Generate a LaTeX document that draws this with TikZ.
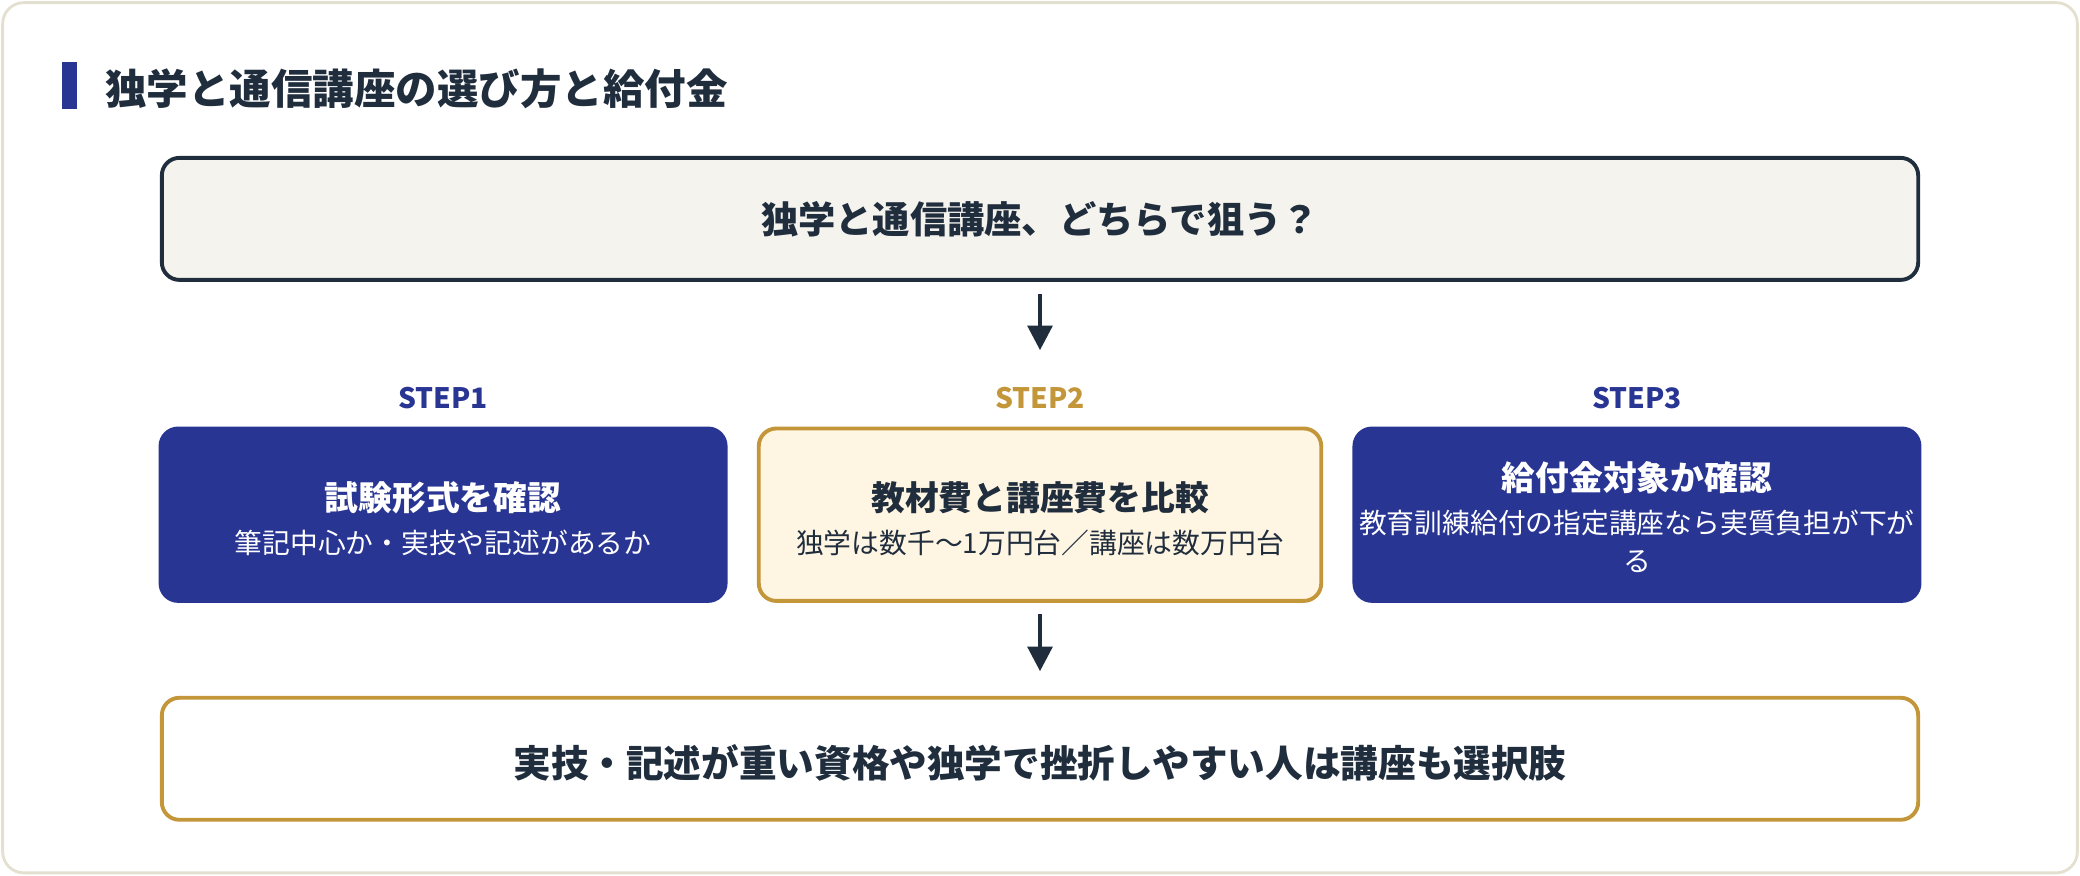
\documentclass[tikz,border=0pt]{standalone}
\usepackage{fontspec}
\setmainfont{Noto Sans CJK JP}
\usepackage{tikz}
\usetikzlibrary{arrows.meta,positioning}
\definecolor{navy}{HTML}{283593}
\definecolor{ink}{HTML}{1F2D3D}
\definecolor{gold}{HTML}{C4963A}
\definecolor{cream}{HTML}{FFF5E3}
\definecolor{paperbg}{HTML}{F5F3EE}
\definecolor{frame}{HTML}{E4E0D0}
\tikzset{
   box/.style={rounded corners=5pt, line width=1.1pt, align=center, inner sep=0pt},
   navybox/.style={box, fill=navy, draw=navy, text=white},
   steplabel/.style={font=\fontsize{8}{10}\selectfont\bfseries},
   flow/.style={-{Triangle[length=7pt,width=7pt]}, line width=1.2pt, draw=ink}
}
\begin{document}
\begin{tikzpicture}[x=0.013265cm, y=-0.013265cm]
\useasboundingbox (0,0) rectangle (1568,660);
\draw[frame, rounded corners=6pt, line width=0.8pt, fill=white] (2,2) rectangle (1566,658);
% title
\fill[navy] (47,47) rectangle (58,82);
\node[anchor=west, text=ink, font=\fontsize{11.8}{14}\selectfont\bfseries] (title) at (70,67) {独学と通信講座の選び方と給付金};
% question
\draw[box, fill=paperbg, draw=ink] (122,119) rectangle (1446,211);
\node[text=ink, font=\fontsize{10.6}{13}\selectfont\bfseries] (q) at (784,165) {独学と通信講座、どちらで狙う？};
\coordinate (qb) at (784,222);
\coordinate (st) at (784,264);
\draw[flow] (qb) -- (st);
% steps
\node[steplabel, text=navy] (l1) at (334,300) {STEP1};
\node[steplabel, text=gold] (l2) at (784,300) {STEP2};
\node[steplabel, text=navy] (l3) at (1234,300) {STEP3};
\draw[navybox] (121,323) rectangle (547,453);
\draw[box, fill=cream, draw=gold] (572,323) rectangle (996,453);
\draw[navybox] (1021,323) rectangle (1447,453);
\node[text=white, font=\fontsize{9.6}{12}\selectfont\bfseries] (s1) at (334,375) {試験形式を確認};
\node[text=white, font=\fontsize{7.9}{10}\selectfont] (d1) at (334,409) {筆記中心か・実技や記述があるか};
\node[text=ink, font=\fontsize{9.6}{12}\selectfont\bfseries] (s2) at (784,375) {教材費と講座費を比較};
\node[text=ink, font=\fontsize{7.9}{10}\selectfont] (d2) at (784,409) {独学は数千〜1万円台／講座は数万円台};
\node[text=white, font=\fontsize{9.6}{12}\selectfont\bfseries] (s3) at (1234,360) {給付金対象か確認};
\node[text=white, font=\fontsize{7.9}{11}\selectfont, align=center] (d3) at (1234,408) {教育訓練給付の指定講座なら実質負担が下が\\る};
\coordinate (sb) at (784,463);
\coordinate (cb) at (784,506);
\draw[flow] (sb) -- (cb);
% conclusion
\draw[box, fill=white, draw=gold] (122,526) rectangle (1446,618);
\node[text=ink, font=\fontsize{10.7}{13}\selectfont\bfseries] (c) at (784,575) {実技・記述が重い資格や独学で挫折しやすい人は講座も選択肢};
\end{tikzpicture}
\end{document}
